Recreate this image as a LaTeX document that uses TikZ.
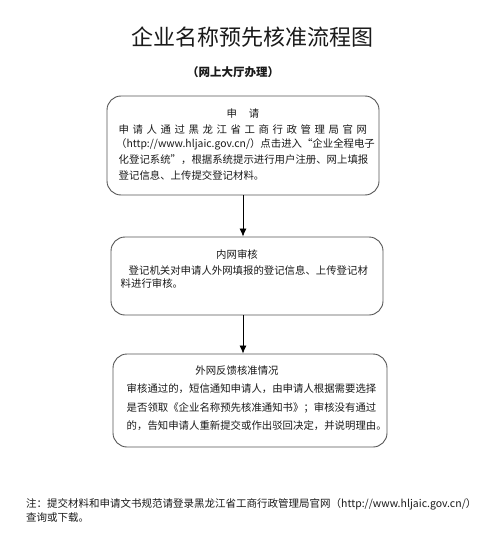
\documentclass[tikz,border=0pt]{standalone}
\usepackage{fontspec}
\setmainfont{Noto Sans CJK SC}
\usetikzlibrary{arrows.meta}
\definecolor{txt}{HTML}{1A1A1A}
\definecolor{edge}{HTML}{555555}
\def\lsp#1{\ifx#1\relax\else#1\kern3.6pt\expandafter\lsp\fi}
\begin{document}
\begin{tikzpicture}[x=1pt,y=-1pt,
  box/.style={draw=edge, line width=0.9pt, rounded corners=14pt, inner sep=0pt, minimum width=#1},
  line/.style={anchor=base west, inner sep=0pt, text=txt, font=\fontsize{10.4}{12}\selectfont},
  ctitle/.style={anchor=base, inner sep=0pt, text=txt, font=\fontsize{10.4}{12}\selectfont},
  arr/.style={draw=black, line width=0.8pt, -{Latex[length=8pt,width=7pt]}}]
\useasboundingbox (0,0) rectangle (500,543);
\fill[white] (0,0) rectangle (500,543);
% title
\node[anchor=base, inner sep=0pt, text=txt, font=\fontsize{22}{26}\selectfont] (title) at (252,46) {企业名称预先核准流程图};
\node[anchor=base, inner sep=0pt, text=txt, font=\fontsize{11.5}{13}\bfseries] (sub) at (233,77) {（网上大厅办理）};
% boxes
\node[box=272pt, minimum height=99pt] (b1) at (243,145.5) {};
\node[box=272pt, minimum height=78pt] (b2) at (247,276) {};
\node[box=274pt, minimum height=93pt] (b3) at (250,400.5) {};
% box 1 text
\node[ctitle] (t1) at (243,117) {申\hspace{12pt}请};
\node[line] (t1a) at (118.5,133) {\lsp 申请人通过黑龙江省工商行政管理局官网\relax};
\node[line] (t1b) at (116,147) {（http://www.hljaic.gov.cn/）点击进入“企业全程电子};
\node[line] (t1c) at (118.5,163) {化登记系统”，根据系统提示进行用户注册、网上填报};
\node[line] (t1d) at (118.5,179) {登记信息、上传提交登记材料。};
% box 2 text
\node[ctitle] (t2) at (237,258) {内网审核};
\node[line] (t2a) at (128.5,274) {登记机关对申请人外网填报的登记信息、上传登记材};
\node[line] (t2b) at (120.5,287) {料进行审核。};
% box 3 text
\node[ctitle] (t3) at (237,374) {外网反馈核准情况};
\node[line] (t3a) at (126.5,392) {审核通过的，短信通知申请人，由申请人根据需要选择};
\node[line] (t3b) at (126.5,411) {是否领取《企业名称预先核准通知书》；审核没有通过};
\node[line] (t3c) at (126.5,429) {的，告知申请人重新提交或作出驳回决定，并说明理由。};
% arrows
\draw[arr] (b1.south) -- (b1.south |- b2.north);
\draw[arr] (b1.south |- b2.south) -- (b1.south |- b3.north);
% note
\node[line, font=\fontsize{10.5}{12}\selectfont] (n1) at (26,507) {注：提交材料和申请文书规范请登录黑龙江省工商行政管理局官网（http://www.hljaic.gov.cn/）};
\node[line, font=\fontsize{10.5}{12}\selectfont] (n2) at (26,521) {查询或下载。};
\end{tikzpicture}
\end{document}
